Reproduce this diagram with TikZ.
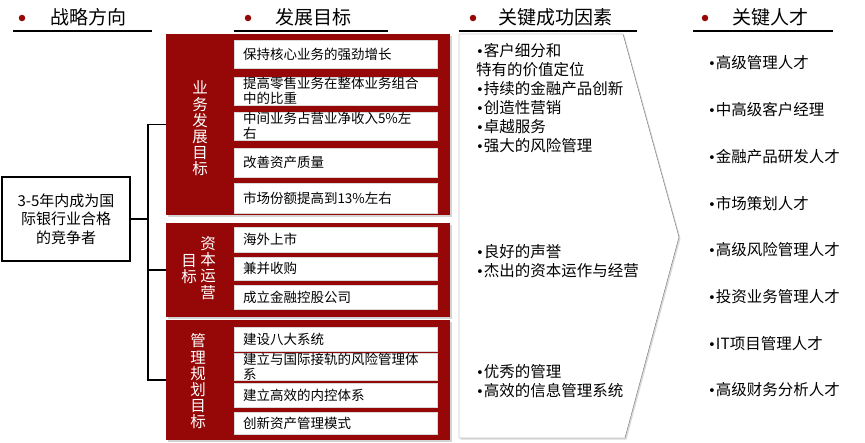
\documentclass[tikz,border=0pt]{standalone}
\usepackage{fontspec}
\setmainfont{Noto Sans CJK SC}
\newfontfamily\bulletfont{DejaVu Sans}
\usepackage{tikz}
\usepackage{xcolor}
\newcommand{\dotmark}{{\bulletfont\scalebox{0.85}{•}}}
\definecolor{deep_red}{RGB}{150,8,8}
\definecolor{frame_grey}{RGB}{110,110,110}
\usetikzlibrary{positioning, calc, shadows}

\begin{document}
\begin{tikzpicture}[x=1pt,y=-1pt,
    head/.style={anchor=west,inner sep=0pt,font=\fontsize{19}{22}\selectfont},
    dot/.style={circle,fill=deep_red,inner sep=0pt,minimum size=6.5pt},
    panel/.style={fill=deep_red,minimum width=284pt,inner sep=0pt,
        drop shadow={shadow xshift=2pt,shadow yshift=-2pt,opacity=0.35}},
    item/.style={fill=white,draw=black!15,minimum width=203pt,text width=185pt,
        inner xsep=9pt,inner ysep=0pt,align=left,font=\fontsize{13.5}{15}\selectfont},
    vlabel/.style={text=white,inner sep=0pt,align=center,font=\fontsize{15.5}{16.2}\selectfont},
    csf/.style={anchor=west,inner sep=0pt,align=left,font=\fontsize{15.5}{19}\selectfont},
    talent/.style={anchor=west,inner sep=0pt,font=\fontsize{15.5}{19}\selectfont}]
    \useasboundingbox (0,0) rectangle (865,442);
    %見出し
    \node[dot] (d1) at (22,18) {};
    \node[head] (h1) at (50,17) {战略方向};
    \draw[line width=2.2pt] (13,31)--(152,31);
    \node[dot] (d2) at (248,18) {};
    \node[head] (h2) at (275,17) {发展目标};
    \draw[line width=2.2pt] (234,31)--(388,31);
    \node[dot] (d3) at (473,18) {};
    \node[head] (h3) at (498,17) {关键成功因素};
    \draw[line width=2.2pt] (459,31)--(637,31);
    \node[dot] (d4) at (705,18) {};
    \node[head] (h4) at (732,17) {关键人才};
    \draw[line width=2.2pt] (693,31)--(833,31);
    %战略方向
    \node[draw,line width=1.3pt,minimum width=128pt,minimum height=84pt,align=center,
        font=\fontsize{15}{18.5}\selectfont] (goal) at (66,219)
        {3-5年内成为国\\际银行业合格\\的竞争者};
    %发展目标の枠
    \node[panel,minimum height=181pt] (p1) at (308,124.5) {};
    \node[panel,minimum height=94pt] (p2) at (308,270) {};
    \node[panel,minimum height=120pt] (p3) at (308,380) {};
    \node[vlabel] (l1) at (200,128.5) {业\\务\\发\\展\\目\\标};
    \node[vlabel] (l2a) at (208,268) {资\\本\\运\\营};
    \node[vlabel] (l2b) at (189,269) {目\\标};
    \node[vlabel] (l3) at (198,381.5) {管\\理\\规\\划\\目\\标};
    \node[item,minimum height=28pt] (b11) at (335.5,54) {保持核心业务的强劲增长};
    \node[item,minimum height=28pt] (b12) at (335.5,91) {提高零售业务在整体业务组合\\中的比重};
    \node[item,minimum height=28pt] (b13) at (335.5,126) {中间业务占营业净收入5\%左\\右};
    \node[item,minimum height=29pt] (b14) at (335.5,162.5) {改善资产质量};
    \node[item,minimum height=30pt] (b15) at (335.5,198) {市场份额提高到13\%左右};
    \node[item,minimum height=25pt] (b21) at (335.5,239.5) {海外上市};
    \node[item,minimum height=23pt] (b22) at (335.5,268.5) {兼并收购};
    \node[item,minimum height=24pt] (b23) at (335.5,297) {成立金融控股公司};
    \node[item,minimum height=24pt] (b31) at (335.5,339) {建设八大系统};
    \node[item,minimum height=26pt] (b32) at (335.5,367) {建立与国际接轨的风险管理体\\系};
    \node[item,minimum height=24pt] (b33) at (335.5,395) {建立高效的内控体系};
    \node[item,minimum height=22pt] (b34) at (335.5,423) {创新资产管理模式};
    %つなぎ線
    \coordinate (trunk) at (148,219);
    \draw[line width=1.3pt] (goal.east)--(trunk);
    \draw[line width=1.3pt] (p1.west)-|(trunk)|-(p3.west);
    \draw[line width=1.3pt] (trunk|-p2.west)--(p2.west);
    %关键成功因素
    \filldraw[fill=white,draw=frame_grey,thin,
        drop shadow={shadow xshift=1.5pt,shadow yshift=-1.5pt,opacity=0.3}]
        (459,34)--(623,34)--(679,237)--(625,438)--(459,438)--cycle;
    \node[csf] (f1) at (476,98) {\dotmark{}客户细分和\\特有的价值定位\\\dotmark{}持续的金融产品创新\\\dotmark{}创造性营销\\\dotmark{}卓越服务\\\dotmark{}强大的风险管理};
    \node[csf] (f2) at (476,261) {\dotmark{}良好的声誉\\\dotmark{}杰出的资本运作与经营};
    \node[csf] (f3) at (476,381) {\dotmark{}优秀的管理\\\dotmark{}高效的信息管理系统};
    %关键人才
    \foreach \name [count=\i] in {高级管理人才,中高级客户经理,金融产品研发人才,市场策划人才,
        高级风险管理人才,投资业务管理人才,IT项目管理人才,高级财务分析人才}
        \node[talent] (t\i) at (708,{63+46.7*(\i-1)}) {\dotmark{}\name};
\end{tikzpicture}
\end{document}
